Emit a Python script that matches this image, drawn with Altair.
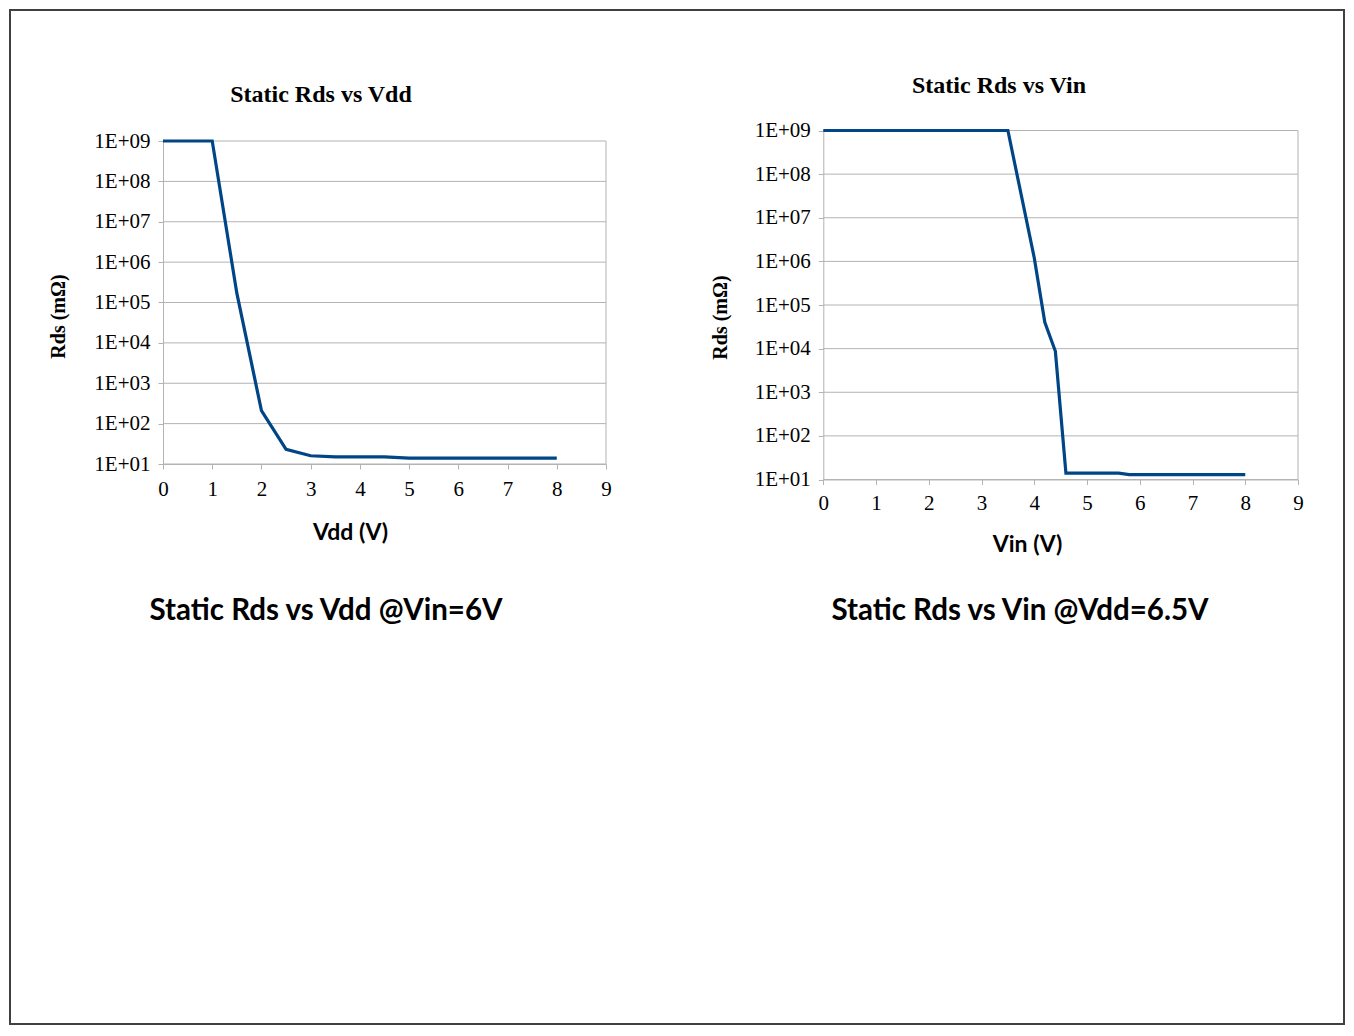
import altair as alt
import pandas as pd

# ---- data ----
vdd_volts = [0, 0.5, 1, 1.5, 2, 2.5, 3, 3.5, 4, 4.5, 5, 5.5, 6, 6.5, 7, 7.5, 8]
vdd_rds = [1e9, 1e9, 1e9, 1.7e5, 210, 23, 16, 15, 15, 15, 14, 14, 14, 14, 14, 14, 14]

vin_volts = [0, 0.5, 1, 1.5, 2, 2.5, 3, 3.5, 4, 4.2, 4.4, 4.6, 5, 5.6, 5.8, 6, 6.5, 7, 7.5, 8]
vin_rds = [1e9, 1e9, 1e9, 1e9, 1e9, 1e9, 1e9, 1e9, 1.2e6, 4e4, 8.7e3, 14, 14, 14, 13, 13, 13, 13, 13, 13]

decades = [1e1, 1e2, 1e3, 1e4, 1e5, 1e6, 1e7, 1e8, 1e9]
volt_ticks = [0, 1, 2, 3, 4, 5, 6, 7, 8, 9]

left_title = "Static Rds vs Vdd"
right_title = "Static Rds vs Vin"
left_xtitle = "Vdd (V)"
right_xtitle = "Vin (V)"
ytitle = "Rds (mΩ)"
left_caption = "Static Rds vs Vdd @Vin=6V"
right_caption = "Static Rds vs Vin @Vdd=6.5V"

# ---- layout (page pixel positions converted to chart coordinates) ----
PAD = 2
O = 8 + PAD  # page offset of the chart origin
W, H = 1334, 1014
SERIF = "Liberation Serif"
SANS = "Lato"
GRID = "#b3b3b3"
LINE = "#004586"


def p(v):
    return v - O


L_X0, L_X1, L_YB, L_YT = p(163), p(606), p(464), p(141)
R_X0, R_X1, R_YB, R_YT = p(823.3), p(1298), p(479.5), p(130.5)

lx = alt.Scale(domain=[0, 9], range=[L_X0, L_X1], nice=False, zero=False)
ly = alt.Scale(type="log", domain=[10, 1e9], range=[L_YB, L_YT], nice=False)
rx = alt.Scale(domain=[0, 9], range=[R_X0, R_X1], nice=False, zero=False)
ry = alt.Scale(type="log", domain=[10, 1e9], range=[R_YB, R_YT], nice=False)

label_expr = "'1E+' + (datum.value < 1e10 ? '0' : '') + format(log(datum.value)/LN10, '.0f')"


def xaxis(title, axis_y, tx, ty, lpad):
    return alt.Axis(
        orient="bottom", offset=axis_y - H, values=volt_ticks, grid=False,
        domainColor=GRID, tickColor=GRID, tickSize=5, labelPadding=lpad,
        labelFont=SERIF, labelFontSize=21, labelColor="black",
        labelFlush=False, labelOverlap=False,
        title=title, titleFont=SANS, titleFontSize=23, titleFontWeight="bold",
        titleColor="black", titleX=tx, titleY=ty, titleBaseline="middle",
        titleAlign="center",
    )


def yaxis(x0, tx, ty, fs):
    return alt.Axis(
        orient="left", offset=-x0, values=decades, grid=False,
        domainColor=GRID, tickColor=GRID, tickSize=5, labelPadding=8,
        labelFont=SERIF, labelFontSize=21, labelColor="black",
        labelExpr=label_expr, labelOverlap=False, labelFlush=False,
        title=ytitle, titleFont=SERIF, titleFontSize=fs, titleFontWeight="bold",
        titleColor="black", titleX=tx, titleY=ty, titleAngle=270,
        titleBaseline="middle", titleAlign="center",
    )


left_df = pd.DataFrame({"v": vdd_volts, "r": vdd_rds})
right_df = pd.DataFrame({"v": vin_volts, "r": vin_rds})
grid_df = pd.DataFrame({"d": decades})


def panel(df, xs, ys, xax, yax):
    grid = alt.Chart(grid_df).mark_rule(color=GRID, strokeWidth=1).encode(
        x=alt.XDatum(0, type="quantitative", scale=xs, axis=xax),
        x2=alt.X2Datum(9),
        y=alt.Y("d:Q", scale=ys, axis=yax),
    )
    frame = alt.Chart(grid_df.head(1)).mark_rule(color=GRID, strokeWidth=1).encode(
        x=alt.XDatum(9, type="quantitative", scale=xs, axis=xax),
        y=alt.YDatum(10, type="quantitative", scale=ys, axis=yax),
        y2=alt.Y2Datum(1e9),
    )
    line = alt.Chart(df).mark_line(color=LINE, strokeWidth=3.2).encode(
        x=alt.X("v:Q", scale=xs, axis=xax),
        y=alt.Y("r:Q", scale=ys, axis=yax),
    )
    return alt.layer(grid, frame, line)


left = panel(left_df, lx, ly,
             xaxis(left_xtitle, L_YB, p(350), p(532) - L_YB, 9),
             yaxis(L_X0, p(58) - L_X0, p(316), 20))
right = panel(right_df, rx, ry,
              xaxis(right_xtitle, R_YB, p(1027), p(544) - R_YB, 8),
              yaxis(R_X0, p(720) - R_X0, p(317), 20))

one = alt.Data(values=[{}])


def text(s, x, y, font, size):
    return alt.Chart(one).mark_text(
        text=s, font=font, fontSize=size, fontWeight="bold", color="black",
        align="center", baseline="middle",
    ).encode(x=alt.value(x), y=alt.value(y))


texts = [
    text(left_title, p(321), p(95), SERIF, 24),
    text(right_title, p(999), p(86), SERIF, 24),
    text(left_caption, p(326), p(611), SANS, 29.5),
    text(right_caption, p(1020), p(611), SANS, 29.5),
]

chart = alt.layer(left, right, *texts).resolve_scale(
    x="independent", y="independent"
).properties(
    width=W, height=H, autosize=alt.AutoSizeParams(type="none"), padding=PAD,
).configure(
    background="white",
    view=alt.ViewConfig(stroke="#404040", strokeWidth=2),
)

chart.save("out.html", embed_options={"renderer": "svg", "actions": False})
